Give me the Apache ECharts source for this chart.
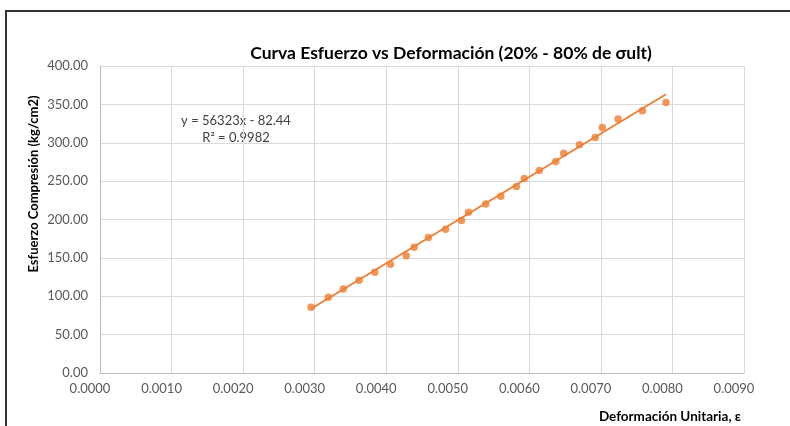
<!DOCTYPE html>
<html>
<head>
<meta charset="utf-8">
<script src="https://cdn.jsdelivr.net/npm/echarts@6/dist/echarts.min.js"></script>
<style>html,body{margin:0;padding:0;background:#fff}#c{width:790px;height:426px}</style>
</head>
<body>
<div id="c"></div>
<script>
const strain = [0.00295,0.00319,0.00340,0.00362,0.00384,0.00406,0.00428,0.00439,0.00459,0.00483,0.00505,0.00515,0.00539,0.00560,0.00582,0.00593,0.00614,0.00637,0.00648,0.00670,0.00692,0.00702,0.00724,0.00758,0.00791];
const stress = [85.7,98.7,109.5,120.9,131.3,141.7,152.9,163.9,176.7,187.4,198.6,209.5,220.3,230.4,242.9,253.3,264.0,275.5,286.4,297.3,306.8,319.8,330.8,341.6,352.4];
const trendSlope = 56323;
const trendIntercept = -82.44;
const equationText = 'y = 56323x - 82.44';
const r2Text = 'R² = 0.9982';
const titleText = 'Curva Esfuerzo vs Deformación (20% - 80% de σult)';
const yName = 'Esfuerzo Compresión (kg/cm2)';
const xName = 'Deformación Unitaria, ε';

const pts = strain.map((x,i)=>[x, stress[i]]);
const xMin = Math.min(...strain), xMax = Math.max(...strain);
const trend = [[xMin, trendSlope*xMin+trendIntercept],[xMax, trendSlope*xMax+trendIntercept]];
const orange = '#ED7D31';
const font = 'Lato, "Open Sans", sans-serif';

const chart = echarts.init(document.getElementById('c'));
chart.setOption({
  animation:false,
  backgroundColor:'#fff',
  title:{text:titleText,left:446,top:39,textAlign:'center',
    textStyle:{fontFamily:font,fontSize:17.5,fontWeight:'bold',color:'#000'}},
  grid:{left:100,right:46,top:66,bottom:53},
  xAxis:{type:'value',min:0,max:0.009,interval:0.001,
    axisLine:{show:true,lineStyle:{color:'#bfbfbf'}},
    axisTick:{show:false},
    splitLine:{show:true,lineStyle:{color:'#d9d9d9'}},
    axisLabel:{fontFamily:font,fontSize:13,color:'#595959',margin:9,padding:[0,20,0,0],
      formatter:v=>v.toFixed(4)}},
  yAxis:{type:'value',min:0,max:400,interval:50,
    axisLine:{show:true,lineStyle:{color:'#bfbfbf'}},
    axisTick:{show:false},
    splitLine:{show:true,lineStyle:{color:'#d9d9d9'}},
    axisLabel:{fontFamily:font,fontSize:13,color:'#595959',margin:12,
      formatter:v=>v.toFixed(2)}},
  series:[
    {type:'line',data:trend,symbol:'none',lineStyle:{color:orange,width:1.8},z:2},
    {type:'scatter',data:pts,symbol:'circle',symbolSize:7.5,itemStyle:{color:orange},z:3}
  ],
  graphic:[
    {type:'rect',shape:{x:6,y:11,width:800,height:430},style:{fill:'none',stroke:'#333',lineWidth:2}},
    {type:'text',x:236,y:121,style:{text:equationText,font:'13px '+font,fill:'#404040',align:'center',verticalAlign:'middle'}},
    {type:'text',x:236,y:138,style:{text:r2Text,font:'13px '+font,fill:'#404040',align:'center',verticalAlign:'middle'}},
    {type:'text',x:34,y:184,rotation:Math.PI/2,style:{text:yName,font:'bold 13px '+font,fill:'#000',align:'center',verticalAlign:'middle'}},
    {type:'text',x:741,y:417,style:{text:xName,font:'bold 13.5px '+font,fill:'#000',align:'right',verticalAlign:'middle'}}
  ]
});
</script>
</body>
</html>
